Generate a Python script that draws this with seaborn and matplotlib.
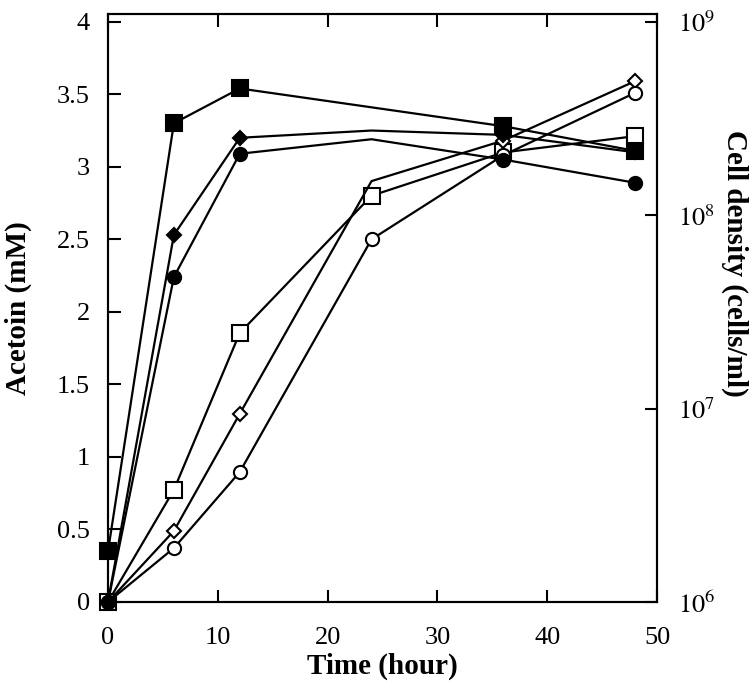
import matplotlib
matplotlib.use("Agg")
import matplotlib.pyplot as plt
import seaborn as sns
import numpy as np
import pandas as pd

# Data
time_h = [0, 6, 12, 24, 36, 48]
# Acetoin (mM), filled markers
acetoin_square = [0.35, 3.30, 3.54, 3.41, 3.28, 3.11]
acetoin_diamond = [0.0, 2.53, 3.20, 3.25, 3.22, 3.10]
acetoin_circle = [0.0, 2.24, 3.09, 3.19, 3.05, 2.89]
# Cell density (cells/ml), open markers
cells_square = [1.0e6, 3.8e6, 2.46e7, 1.26e8, 2.11e8, 2.56e8]
cells_diamond = [1.0e6, 2.33e6, 9.4e6, 1.5e8, 2.43e8, 4.93e8]
cells_circle = [1.0e6, 1.9e6, 4.7e6, 7.5e7, 2.04e8, 4.29e8]

sns.set_theme(style="white")
plt.rcParams['font.family'] = ['Liberation Serif', 'DejaVu Serif']
plt.rcParams['mathtext.fontset'] = 'stix'
plt.rcParams['text.color'] = 'black'
plt.rcParams['axes.labelcolor'] = 'black'
plt.rcParams['xtick.color'] = 'black'
plt.rcParams['ytick.color'] = 'black'

fig = plt.figure(figsize=(7.5, 6.88), dpi=100)
ax = fig.add_axes([0.144, 0.125, 0.732, 0.855])
ax2 = ax.twinx()

lw = 1.6
mew = 1.5
all_idx = [0, 1, 2, 3, 4, 5]
no24 = [0, 1, 2, 4, 5]

# open series (cell density, right log axis)
open_specs = [
    (cells_square, 's', 11, all_idx),
    (cells_diamond, 'D', 7.5, no24),
    (cells_circle, 'o', 9.5, all_idx),
]
for vals, mk, ms, me in open_specs:
    sns.lineplot(x=time_h, y=vals, ax=ax2, color='black', linewidth=lw,
                 marker=mk, markersize=ms, markerfacecolor='white',
                 markeredgecolor='black', markeredgewidth=mew,
                 markevery=me, clip_on=False, zorder=3)

# filled series (acetoin, left axis)
filled_specs = [
    (acetoin_square, 's', 11, no24),
    (acetoin_diamond, 'D', 7.5, no24),
    (acetoin_circle, 'o', 9.5, no24),
]
for vals, mk, ms, me in filled_specs:
    sns.lineplot(x=time_h, y=vals, ax=ax, color='black', linewidth=lw,
                 marker=mk, markersize=ms, markerfacecolor='black',
                 markeredgecolor='black', markeredgewidth=mew,
                 markevery=me, clip_on=False, zorder=4)

ax.set_zorder(ax2.get_zorder() + 1)
ax.patch.set_visible(False)

ytop = 4.055
ax.set_xlim(0, 50)
ax.set_ylim(0, ytop)
ax2.set_yscale('log')
ax2.set_ylim(1e6, 10 ** (6 + 0.75 * ytop))

ax.set_xticks([0, 10, 20, 30, 40, 50])
ax.set_yticks([0, 0.5, 1, 1.5, 2, 2.5, 3, 3.5, 4])
ax.set_yticklabels(['0', '0.5', '1', '1.5', '2', '2.5', '3', '3.5', '4'])
ax2.set_yticks([1e6, 1e7, 1e8, 1e9])
ax2.set_yticklabels([r'$10^{6}$', r'$10^{7}$', r'$10^{8}$', r'$10^{9}$'])
ax2.yaxis.set_minor_locator(matplotlib.ticker.NullLocator())

fs = 19
lfs = 21
ax.tick_params(axis='x', direction='in', length=9, width=1.5, top=True, bottom=True,
               labelsize=fs, pad=18, colors='black')
ax.tick_params(axis='y', direction='in', length=9, width=1.5, left=True, right=False,
               labelsize=fs, pad=13, colors='black')
ax2.tick_params(axis='y', direction='in', length=9, width=1.5, right=True, left=False,
                labelsize=fs, pad=15, colors='black')
ax2.tick_params(axis='x', top=False, bottom=False)

for a in (ax, ax2):
    for s in a.spines.values():
        s.set_color('black')
        s.set_linewidth(1.5)
        s.set_visible(True)

ax.set_xlabel('Time (hour)', fontsize=lfs, fontweight='bold', labelpad=3)
ax.set_ylabel('Acetoin (mM)', fontsize=lfs, fontweight='bold', labelpad=18)
ax2.set_ylabel('Cell density (cells/ml)', fontsize=lfs, fontweight='bold',
               rotation=-90, ha='center', va='center', rotation_mode='default')
ax2.yaxis.set_label_coords(1.142, 0.575)

fig.savefig('out.png', dpi=100)
